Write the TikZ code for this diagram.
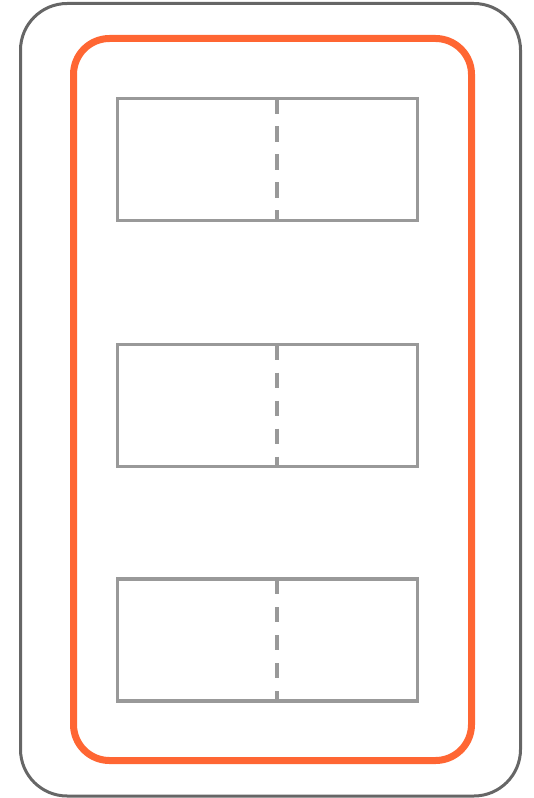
\documentclass[tikz,border=0pt]{standalone}
\definecolor{frameGray}{HTML}{666666}
\definecolor{accentOrange}{HTML}{FF6633}
\definecolor{slotGray}{HTML}{999999}
\tikzset{
    slot/.style={draw=slotGray, line width=2.4pt},
    slotDivider/.style={draw=slotGray, line width=2.4pt, dash pattern=on 11.6pt off 9.4pt}
}
\begin{document}
\begin{tikzpicture}[x=0.75pt, y=-0.75pt]
    \useasboundingbox (0, 0) rectangle (533, 798);

    % outer casing and orange frame
    \draw[frameGray, line width=2.25pt, rounded corners=35pt] (20.5, 3.5) rectangle (520.5, 796);
    \draw[accentOrange, line width=5.25pt, rounded corners=27pt] (73.5, 38.5) rectangle (471.5, 760.5);

    % slots with dashed dividers
    \foreach \y [count=\i] in {98.5, 344.5, 579} {
        \node[slot, rectangle, inner sep=0pt, outer sep=0pt, minimum width=225pt, minimum height=91.5pt, anchor=north west]
            (slot\i) at (117.5, \y) {};
        \coordinate (div\i top) at ([xshift=119.6pt]slot\i.north west);
        \coordinate (div\i bot) at ([xshift=119.6pt]slot\i.south west);
        \draw[slotDivider] (div\i top) -- (div\i bot);
    }
\end{tikzpicture}
\end{document}
